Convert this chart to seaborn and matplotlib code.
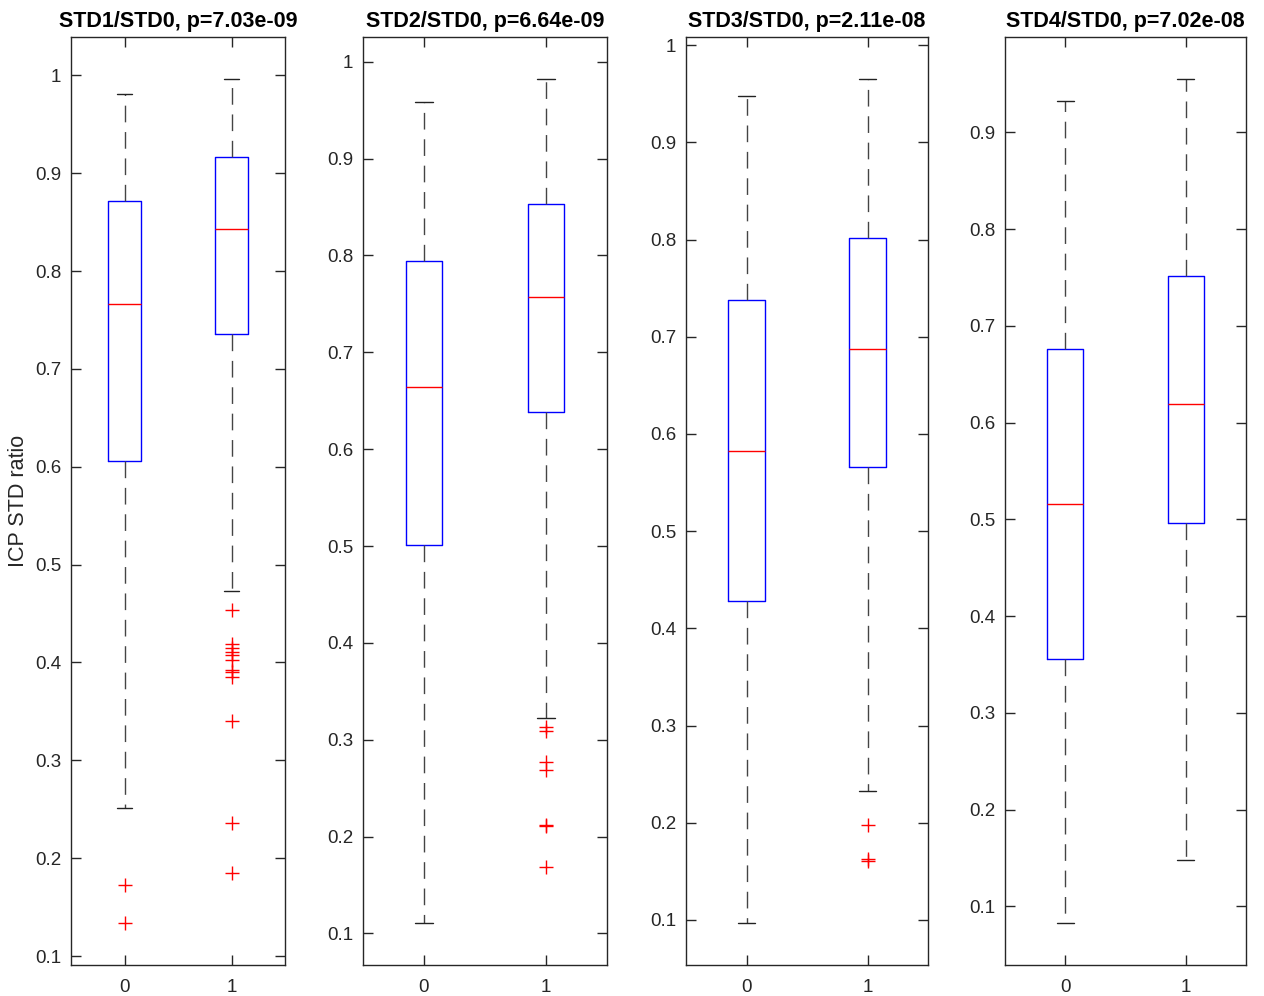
import numpy as np
import matplotlib
matplotlib.use("Agg")
import matplotlib.pyplot as plt
import seaborn as sns
from matplotlib.ticker import MultipleLocator, FuncFormatter

# ---- data ----
titles = ["STD1/STD0, p=7.03e-09", "STD2/STD0, p=6.64e-09",
          "STD3/STD0, p=2.11e-08", "STD4/STD0, p=7.02e-08"]
groups = ["0", "1"]

# per panel: [group0, group1]
whislo = [[0.251, 0.473], [0.111, 0.322], [0.097, 0.233], [0.083, 0.148]]
q1     = [[0.606, 0.736], [0.501, 0.638], [0.428, 0.566], [0.356, 0.496]]
median = [[0.766, 0.843], [0.664, 0.757], [0.582, 0.687], [0.516, 0.619]]
q3     = [[0.872, 0.916], [0.794, 0.853], [0.738, 0.802], [0.676, 0.752]]
whishi = [[0.981, 0.996], [0.958, 0.982], [0.948, 0.965], [0.932, 0.955]]

outliers_p1_g0 = [0.173, 0.134]
outliers_p1_g1 = [0.454, 0.419, 0.415, 0.411, 0.408, 0.403, 0.392, 0.390,
                  0.385, 0.340, 0.236, 0.185]
outliers_p2_g0 = []
outliers_p2_g1 = [0.313, 0.309, 0.277, 0.269, 0.212, 0.211, 0.169]
outliers_p3_g0 = []
outliers_p3_g1 = [0.198, 0.163, 0.161]
outliers_p4_g0 = []
outliers_p4_g1 = []
outliers = [[outliers_p1_g0, outliers_p1_g1], [outliers_p2_g0, outliers_p2_g1],
            [outliers_p3_g0, outliers_p3_g1], [outliers_p4_g0, outliers_p4_g1]]

ylabel = "ICP STD ratio"

# ---- style ----
sns.set_theme(style="ticks")
plt.rcParams["font.family"] = ["Liberation Sans", "DejaVu Sans"]
dark = "#262626"

fig = plt.figure(figsize=(12.64, 9.96), dpi=100)
lefts = [71, 363, 686, 1005]
rights = [285, 607, 928, 1246]
top_px, bot_px = 37, 965
W, H = 1264, 996

for i in range(4):
    ax = fig.add_axes([lefts[i] / W, 1 - bot_px / H,
                       (rights[i] - lefts[i]) / W, (bot_px - top_px) / H])
    stats = []
    for g in range(2):
        stats.append(dict(med=median[i][g], q1=q1[i][g], q3=q3[i][g],
                          whislo=whislo[i][g], whishi=whishi[i][g],
                          fliers=np.array(outliers[i][g]), label=groups[g]))
    ax.bxp(stats, positions=[0, 1], widths=0.3, capwidths=0.14,
           boxprops=dict(color="#0000ff", linewidth=1.0),
           medianprops=dict(color="#ff0000", linewidth=1.0),
           whiskerprops=dict(color="#444444", linewidth=1.0,
                             linestyle=(0, (12, 7))),
           capprops=dict(color="#222222", linewidth=1.0),
           flierprops=dict(marker="+", markeredgecolor="#ff0000",
                           markersize=10, markeredgewidth=1.0,
                           linestyle="none"))
    lo = min([whislo[i][0], whislo[i][1]] + outliers[i][0] + outliers[i][1])
    hi = max([whishi[i][0], whishi[i][1]] + outliers[i][0] + outliers[i][1])
    r = hi - lo
    ax.set_ylim(lo - 0.05 * r, hi + 0.05 * r)
    ax.set_xlim(-0.5, 1.5)
    ax.set_xticks([0, 1])
    ax.set_xticklabels(groups)
    ax.yaxis.set_major_locator(MultipleLocator(0.1))
    ax.yaxis.set_major_formatter(FuncFormatter(lambda v, p: f"{v:.10g}" if abs(v) > 1e-9 else "0"))
    ax.tick_params(direction="in", top=True, right=True, length=7, width=1.0,
                   colors=dark, labelsize=13.5, pad=7)
    ax.tick_params(axis="x", pad=10)
    for s in ax.spines.values():
        s.set_color(dark)
        s.set_linewidth(1.0)
    ax.set_facecolor("white")
    ax.set_title(titles[i], fontsize=15.5, fontweight="bold", color="black", pad=7)
    if i == 0:
        ax.set_ylabel(ylabel, fontsize=15.5, color=dark, labelpad=4)

fig.savefig("out.png", dpi=100, facecolor="white")
